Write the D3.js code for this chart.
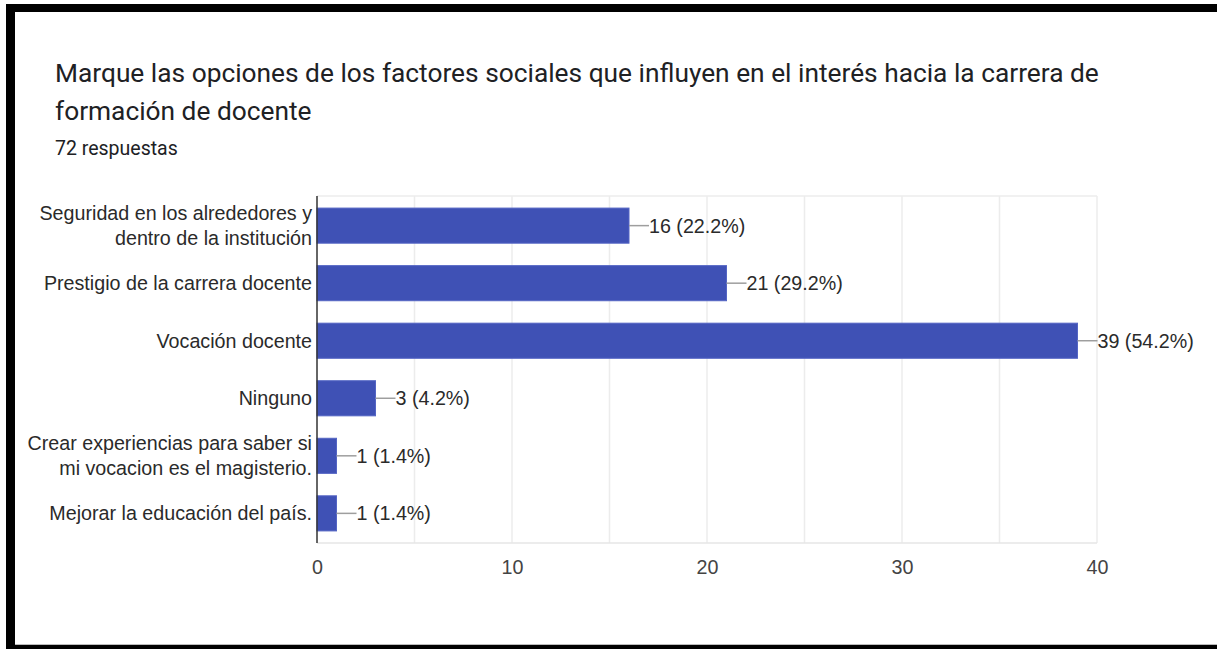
<!DOCTYPE html>
<html>
<head>
<meta charset="utf-8">
<script src="https://cdn.jsdelivr.net/npm/d3@7"></script>
<style>
  html, body { margin: 0; padding: 0; background: #fff; }
  svg { display: block; }
</style>
</head>
<body>
<svg id="chart" width="1217" height="649"></svg>
<script>
const titleLines = [
  "Marque las opciones de los factores sociales que influyen en el interés hacia la carrera de",
  "formación de docente"
];
const subtitle = "72 respuestas";
const categories = [
  "Seguridad en los alrededores y dentro de la institución",
  "Prestigio de la carrera docente",
  "Vocación docente",
  "Ninguno",
  "Crear experiencias para saber si mi vocacion es el magisterio.",
  "Mejorar la educación del país."
];
const values = [16, 21, 39, 3, 1, 1];
const percents = ["22.2%", "29.2%", "54.2%", "4.2%", "1.4%", "1.4%"];
const tickValues = [0, 10, 20, 30, 40];
const gridValues = [5, 10, 15, 20, 25, 30, 35, 40];

const svg = d3.select("#chart");
const W = 1217, H = 649;

svg.append("rect").attr("x", 0).attr("y", 0).attr("width", W).attr("height", H).attr("fill", "#fff");

// frame
svg.append("rect").attr("x", 6).attr("y", 4).attr("width", W - 6).attr("height", 8).attr("fill", "#000");
svg.append("rect").attr("x", 6).attr("y", 4).attr("width", 9).attr("height", H - 4).attr("fill", "#000");
svg.append("rect").attr("x", 15).attr("y", 644).attr("width", W - 15).attr("height", 1).attr("fill", "#bbb");
svg.append("rect").attr("x", 6).attr("y", 645).attr("width", W - 6).attr("height", 4).attr("fill", "#000");

// title
const titleG = svg.append("g");
titleG.selectAll("text.title").data(titleLines).join("text")
  .attr("class", "title")
  .attr("x", 55)
  .attr("y", (d, i) => 82 + i * 38)
  .attr("font-family", "Roboto, sans-serif")
  .attr("font-size", 26.3)
  .attr("fill", "#202124")
  .text(d => d);
svg.append("text")
  .attr("x", 55).attr("y", 155)
  .attr("font-family", "Roboto, sans-serif")
  .attr("font-size", 19.5)
  .attr("fill", "#202124")
  .text(subtitle);

const x0 = 317, x1 = 1097, yTop = 196, yBot = 543;
const x = d3.scaleLinear().domain([0, 40]).range([x0, x1]);
const y = d3.scaleBand().domain(categories).range([yTop, yBot]).paddingInner(0.39).paddingOuter(0.21);

const font = "'Liberation Sans', Arial, sans-serif";
const fs = 19.7;

// gridlines
svg.append("g").selectAll("line").data(gridValues).join("line")
  .attr("x1", d => x(d)).attr("x2", d => x(d))
  .attr("y1", yTop).attr("y2", yBot)
  .attr("stroke", "#ececec").attr("stroke-width", 1.5);
svg.append("line").attr("x1", x0).attr("x2", x(40)).attr("y1", yTop).attr("y2", yTop)
  .attr("stroke", "#ececec").attr("stroke-width", 1.5);
svg.append("line").attr("x1", x0).attr("x2", x(40)).attr("y1", yBot).attr("y2", yBot)
  .attr("stroke", "#e6e6e6").attr("stroke-width", 1.5);

// x axis tick labels
const xAxis = d3.axisBottom(x).tickValues(tickValues).tickSize(0).tickPadding(0).tickFormat(d3.format("d"));
const xg = svg.append("g").attr("transform", `translate(0,${yBot})`).call(xAxis);
xg.select(".domain").remove();
xg.selectAll("text")
  .attr("font-family", font).attr("font-size", fs).attr("fill", "#444")
  .attr("dy", null).attr("y", 31);

// bars
svg.append("g").selectAll("rect").data(categories).join("rect")
  .attr("x", x(0))
  .attr("y", d => y(d))
  .attr("width", (d, i) => x(values[i]) - x(0))
  .attr("height", y.bandwidth())
  .attr("fill", "#3f51b5")
  .attr("stroke", "#5465c4").attr("stroke-width", 1);

// leader lines + value labels
const vg = svg.append("g");
categories.forEach((c, i) => {
  const cy = y(c) + y.bandwidth() / 2;
  const xe = x(values[i]);
  vg.append("line").attr("x1", xe).attr("x2", xe + 20).attr("y1", cy).attr("y2", cy)
    .attr("stroke", "#9e9e9e").attr("stroke-width", 1.5);
  vg.append("text").attr("x", xe + 20).attr("y", cy + 7)
    .attr("font-family", font).attr("font-size", fs).attr("fill", "#2a2a2a")
    .text(`${values[i]} (${percents[i]})`);
});

// y labels with wrapping
const yAxis = d3.axisLeft(y).tickSize(0).tickPadding(5);
const yg = svg.append("g").attr("transform", `translate(${x0},0)`).call(yAxis);
yg.select(".domain").remove();
yg.selectAll("text").each(function(d) {
  const t = d3.select(this);
  t.text(null).attr("font-family", font).attr("font-size", fs).attr("fill", "#2a2a2a")
    .attr("dy", null).attr("x", -5);
  const words = d.split(" ");
  const lines = [];
  let cur = [];
  const probe = t.append("tspan");
  words.forEach(w => {
    const test = cur.concat([w]).join(" ");
    probe.text(test);
    if (probe.node().getComputedTextLength() > 292 && cur.length) {
      lines.push(cur.join(" "));
      cur = [w];
    } else cur.push(w);
  });
  lines.push(cur.join(" "));
  probe.remove();
  const lh = 25;
  const start = -(lines.length - 1) * lh / 2 + 7;
  lines.forEach((ln, k) => {
    t.append("tspan").attr("x", -5).attr("y", start + k * lh).text(ln);
  });
});

// y axis line
svg.append("line").attr("x1", x0).attr("x2", x0).attr("y1", yTop).attr("y2", yBot)
  .attr("stroke", "#333").attr("stroke-width", 1.5);
</script>
</body>
</html>
